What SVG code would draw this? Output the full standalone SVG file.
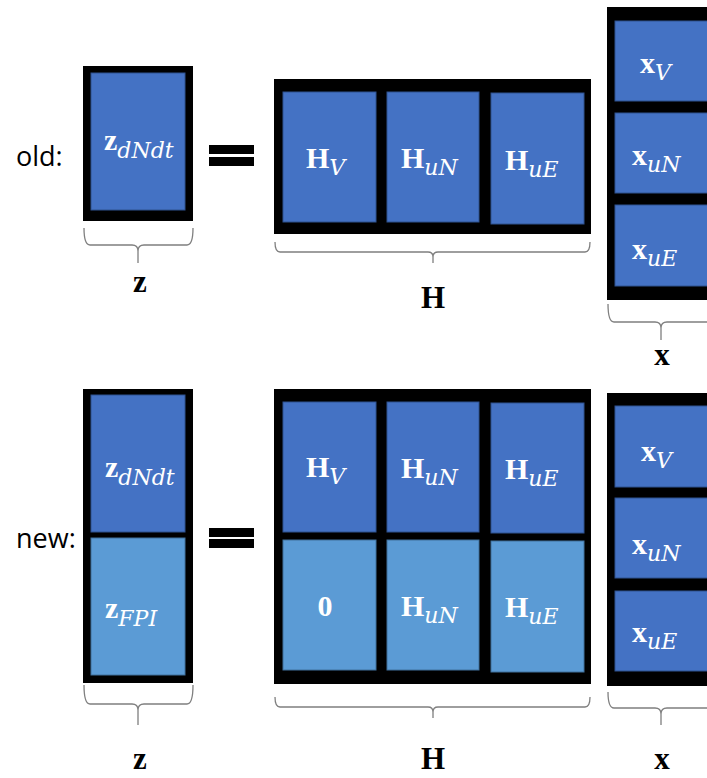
<svg xmlns="http://www.w3.org/2000/svg" width="707" height="778" viewBox="0 0 707 778">
<defs>
<style>
.frame{fill:#000}
.dk{fill:#4472C4;stroke:#2F528F;stroke-width:1}
.lt{fill:#5B9BD5;stroke:#41719C;stroke-width:1}
.eq{fill:#000}
.brace{fill:none;stroke:#7F7F7F;stroke-width:1.3}
.lbl{font-family:"Open Sans",sans-serif;font-size:27px;fill:#000}
.m{font-family:"Liberation Serif",serif;font-weight:bold;font-size:30px;fill:#fff}
.s{font-family:"DejaVu Serif","Liberation Serif",serif;font-style:italic;font-weight:normal;font-size:22px;fill:#fff}
.vl{font-family:"Liberation Serif",serif;font-weight:bold;font-size:31px;fill:#000;text-anchor:middle}
</style>
</defs>
<rect width="707" height="778" fill="#fff"/>

<text class="lbl" x="16" y="166">old:</text>
<text class="lbl" x="16" y="548">new:</text>

<g id="z-old">
<rect class="frame" x="83" y="66" width="110" height="155"/>
<rect class="dk" x="91" y="73" width="94" height="137"/>
<text class="m" x="104" y="150">z<tspan class="s" dy="8">dNdt</tspan></text>
</g>

<g id="eq-old">
<rect class="eq" x="209" y="145" width="45" height="9"/>
<rect class="eq" x="209" y="157" width="45" height="9"/>
</g>

<g id="H-old">
<rect class="frame" x="274" y="79" width="317" height="155"/>
<rect class="dk" x="283" y="92" width="93" height="130"/>
<rect class="dk" x="387" y="92" width="92" height="130"/>
<rect class="dk" x="491" y="93" width="93" height="131"/>
<text class="m" x="306" y="168">H<tspan class="s" dy="7">V</tspan></text>
<text class="m" x="401" y="168">H<tspan class="s" dy="7">uN</tspan></text>
<text class="m" x="505" y="170">H<tspan class="s" dy="7">uE</tspan></text>
</g>

<g id="x-old">
<rect class="frame" x="607" y="7" width="110" height="293"/>
<rect class="dk" x="615" y="21" width="102" height="80"/>
<rect class="dk" x="615" y="113" width="102" height="80"/>
<rect class="dk" x="615" y="205" width="102" height="81"/>
<text class="m" x="640" y="73">x<tspan class="s" dy="7">V</tspan></text>
<text class="m" x="632" y="165">x<tspan class="s" dy="7">uN</tspan></text>
<text class="m" x="632" y="259">x<tspan class="s" dy="7">uE</tspan></text>
</g>

<g id="z-new">
<rect class="frame" x="83" y="389" width="110" height="294"/>
<rect class="dk" x="91" y="395" width="94" height="137"/>
<rect class="lt" x="91" y="538" width="94" height="137"/>
<text class="m" x="105" y="477">z<tspan class="s" dy="8">dNdt</tspan></text>
<text class="m" x="105" y="618">z<tspan class="s" dy="8">FPI</tspan></text>
</g>

<g id="eq-new">
<rect class="eq" x="209" y="528" width="45" height="9"/>
<rect class="eq" x="209" y="539" width="45" height="9"/>
</g>

<g id="H-new">
<rect class="frame" x="274" y="389" width="317" height="295"/>
<rect class="dk" x="283" y="402" width="93" height="130"/>
<rect class="dk" x="387" y="402" width="92" height="130"/>
<rect class="dk" x="491" y="403" width="93" height="130"/>
<rect class="lt" x="283" y="540" width="93" height="130"/>
<rect class="lt" x="387" y="540" width="92" height="130"/>
<rect class="lt" x="491" y="541" width="93" height="131"/>
<text class="m" x="306" y="477">H<tspan class="s" dy="7">V</tspan></text>
<text class="m" x="401" y="478">H<tspan class="s" dy="7">uN</tspan></text>
<text class="m" x="505" y="479">H<tspan class="s" dy="7">uE</tspan></text>
<text class="m" x="325" y="616" text-anchor="middle">0</text>
<text class="m" x="401" y="616">H<tspan class="s" dy="7">uN</tspan></text>
<text class="m" x="505" y="617">H<tspan class="s" dy="7">uE</tspan></text>
</g>

<g id="x-new">
<rect class="frame" x="607" y="393" width="110" height="293"/>
<rect class="dk" x="615" y="406" width="102" height="81"/>
<rect class="dk" x="615" y="498" width="102" height="80"/>
<rect class="dk" x="615" y="591" width="102" height="80"/>
<text class="m" x="641" y="461">x<tspan class="s" dy="7">V</tspan></text>
<text class="m" x="632" y="554">x<tspan class="s" dy="7">uN</tspan></text>
<text class="m" x="632" y="642">x<tspan class="s" dy="7">uE</tspan></text>
</g>

<g id="braces">
<path class="brace" d="M84,228 Q84,245 90,245 L132,245 Q138,245 138,251 L138,263 M138,251 Q138,245 144,245 L187,245 Q193,245 193,228"/>
<path class="brace" d="M275,242 Q275,252 280,252 L428,252 Q433,252 433,257 L433,263 M433,257 Q433,252 438,252 L585,252 Q590,252 590,242"/>
<path class="brace" d="M608,304 Q608,322 614,322 L655,322 Q661,322 661,328 L661,340 M661,328 Q661,322 667,322 L707,322"/>
<path class="brace" d="M84,685 Q84,704 90,704 L132,704 Q138,704 138,710 L138,725 M138,710 Q138,704 144,704 L187,704 Q193,704 193,685"/>
<path class="brace" d="M275,697 Q275,707 280,707 L428,707 Q433,707 433,712 L433,718 M433,712 Q433,707 438,707 L585,707 Q590,707 590,697"/>
<path class="brace" d="M608,692 Q608,708 614,708 L655,708 Q661,708 661,714 L661,725 M661,714 Q661,708 667,708 L707,708"/>
</g>

<g id="labels">
<text class="vl" x="140" y="292">z</text>
<text class="vl" x="433" y="308">H</text>
<text class="vl" x="662" y="365">x</text>
<text class="vl" x="140" y="769">z</text>
<text class="vl" x="433" y="769">H</text>
<text class="vl" x="662" y="769">x</text>
</g>
</svg>
